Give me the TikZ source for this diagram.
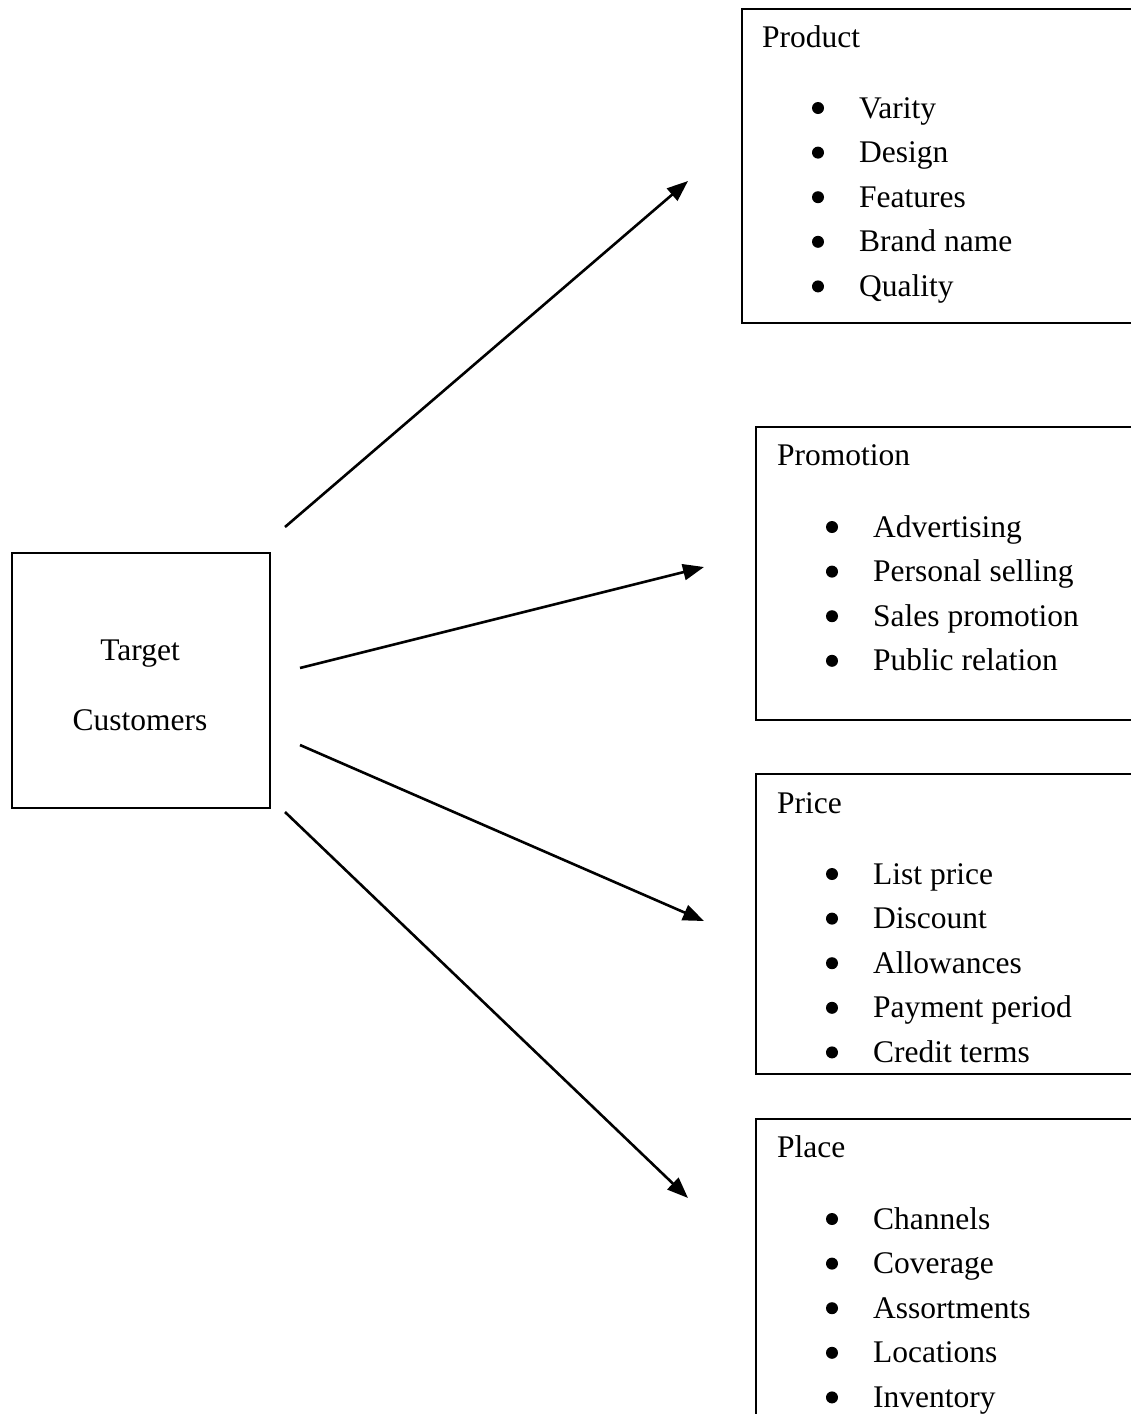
\documentclass[tikz,border=0pt]{standalone}
\usepackage{fontspec}
\setmainfont{Liberation Serif}
\usetikzlibrary{arrows.meta}
\begin{document}
\begin{tikzpicture}[x=1pt,y=-1pt,
  box/.style={draw,line width=2pt,anchor=north west,inner sep=0pt},
  lbl/.style={anchor=base west,inner sep=0pt,font=\fontsize{31.5}{36}\selectfont},
  bul/.style={fill,circle,inner sep=0pt,minimum size=12pt},
  arr/.style={line width=2.6pt,-{Triangle[length=21pt,width=16pt]}}]
\useasboundingbox (0,0) rectangle (1131,1414);
\clip (0,0) rectangle (1131,1414);
% boxes
\node[box,minimum width=258pt,minimum height=255pt] (tc) at (11,552) {};
\node[box,minimum width=450pt,minimum height=314pt] (product) at (741,8) {};
\node[box,minimum width=450pt,minimum height=293pt] (promotion) at (755,426) {};
\node[box,minimum width=450pt,minimum height=300pt] (price) at (755,773) {};
\node[box,minimum width=450pt,minimum height=320pt] (place) at (755,1118) {};
% target text
\node[anchor=base,inner sep=0pt,font=\fontsize{31.5}{36}\selectfont] (t1) at (140,660) {Target};
\node[anchor=base,inner sep=0pt,font=\fontsize{31.5}{36}\selectfont] (t2) at (140,730) {Customers};
% product
\node[lbl] (ph) at (762,47) {Product};
\foreach \t [count=\i] in {Varity,Design,Features,Brand name,Quality}{
  \node[bul] (pb\i) at (818,{118+44.6*(\i-1)-10}) {};
  \node[lbl] (pt\i) at (859,{118+44.6*(\i-1)}) {\t};
}
% promotion
\node[lbl] (mh) at (777,465) {Promotion};
\foreach \t [count=\i] in {Advertising,Personal selling,Sales promotion,Public relation}{
  \node[bul] (mb\i) at (832,{537+44.6*(\i-1)-10}) {};
  \node[lbl] (mt\i) at (873,{537+44.6*(\i-1)}) {\t};
}
% price
\node[lbl] (rh) at (777,813) {Price};
\foreach \t [count=\i] in {List price,Discount,Allowances,Payment period,Credit terms}{
  \node[bul] (rb\i) at (832,{884+44.6*(\i-1)-10}) {};
  \node[lbl] (rt\i) at (873,{884+44.6*(\i-1)}) {\t};
}
% place
\node[lbl] (lh) at (777,1157) {Place};
\foreach \t [count=\i] in {Channels,Coverage,Assortments,Locations,Inventory}{
  \node[bul] (lb\i) at (832,{1229+44.6*(\i-1)-10}) {};
  \node[lbl] (lt\i) at (873,{1229+44.6*(\i-1)}) {\t};
}
% arrows
\coordinate (s1) at (285,527); \coordinate (e1) at (688,181);
\coordinate (s2) at (300,668); \coordinate (e2) at (704,567);
\coordinate (s3) at (300,745); \coordinate (e3) at (704,921);
\coordinate (s4) at (285,812); \coordinate (e4) at (688,1198);
\draw[arr] (s1) -- (e1);
\draw[arr] (s2) -- (e2);
\draw[arr] (s3) -- (e3);
\draw[arr] (s4) -- (e4);
\end{tikzpicture}
\end{document}
